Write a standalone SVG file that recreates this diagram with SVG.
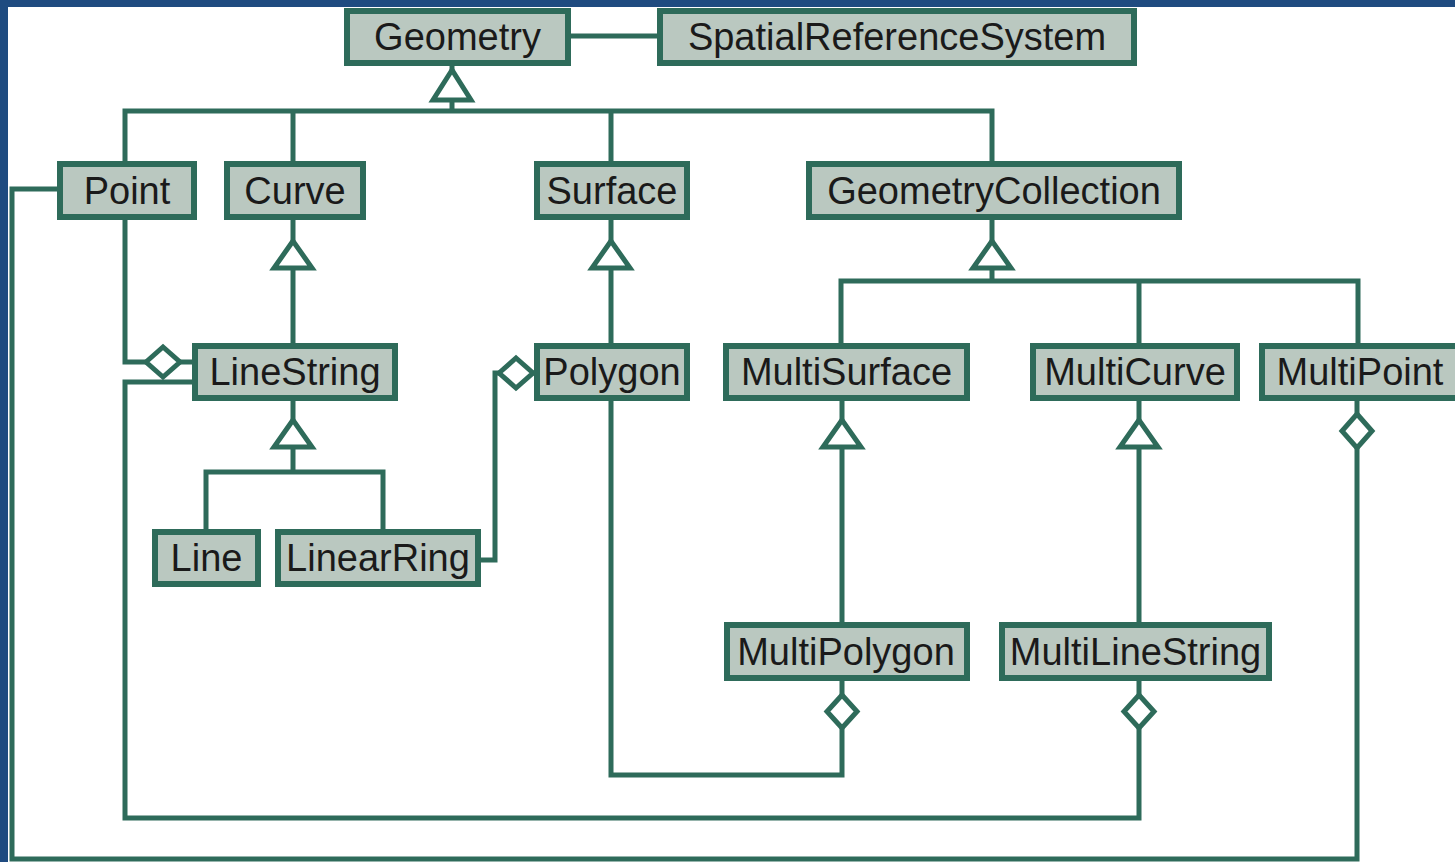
<svg xmlns="http://www.w3.org/2000/svg" width="1455" height="862" viewBox="0 0 1455 862">
<style>
.box{fill:#bac8c0;stroke:#2e6b5a;stroke-width:6}
.lbl{font-family:"Liberation Sans",Arial,sans-serif;font-size:38px;fill:#1a1a1a;text-anchor:middle}
.ln{fill:none;stroke:#2e6b5a;stroke-width:5;stroke-linejoin:miter}
.tri{fill:#ffffff;stroke:#2e6b5a;stroke-width:5;stroke-linejoin:miter}
.dia{fill:#ffffff;stroke:#2e6b5a;stroke-width:5;stroke-linejoin:miter}
</style>
<rect x="0" y="0" width="1455" height="862" fill="#ffffff"/>
<rect x="0" y="0" width="1455" height="7" fill="#1f4b80"/>
<rect x="0" y="0" width="8" height="862" fill="#1f4b80"/>
<g id="connectors">
  <line class="ln" x1="571" y1="36" x2="657" y2="36"/>
  <polyline class="ln" points="452,66 452,70"/>
  <polyline class="ln" points="452,100 452,111"/>
  <polyline class="ln" points="125,161 125,111 992,111 992,161"/>
  <line class="ln" x1="293" y1="111" x2="293" y2="161"/>
  <line class="ln" x1="611" y1="111" x2="611" y2="161"/>
  <polygon class="tri" points="452,70 433,100 471,100"/>
  <line class="ln" x1="293" y1="220" x2="293" y2="343"/>
  <polygon class="tri" points="293,241 274,268 312,268"/>
  <line class="ln" x1="611" y1="220" x2="611" y2="343"/>
  <polygon class="tri" points="611,241 592,268 630,268"/>
  <line class="ln" x1="992" y1="220" x2="992" y2="281"/>
  <polyline class="ln" points="841,343 841,281 1358,281 1358,343"/>
  <line class="ln" x1="1139" y1="281" x2="1139" y2="343"/>
  <polygon class="tri" points="992,241 973,268 1011,268"/>
  <line class="ln" x1="293" y1="401" x2="293" y2="472"/>
  <polyline class="ln" points="206,529 206,472 383,472 383,529"/>
  <polygon class="tri" points="293,420 274,447 312,447"/>
  <line class="ln" x1="842" y1="401" x2="842" y2="622"/>
  <polygon class="tri" points="842,420 823,447 861,447"/>
  <line class="ln" x1="1139" y1="401" x2="1139" y2="622"/>
  <polygon class="tri" points="1139,420 1120,447 1158,447"/>
  <polyline class="ln" points="125,220 125,362 192,362"/>
  <polygon class="dia" points="146,362 163,347 180,362 163,377"/>
  <polyline class="ln" points="192,382 125,382 125,818 1139,818 1139,681"/>
  <polygon class="dia" points="1139,695 1154,711.5 1139,728 1124,711.5"/>
  <polyline class="ln" points="57,189 12,189 12,859 1357,859 1357,401"/>
  <polygon class="dia" points="1357,414 1372,431 1357,448 1342,431"/>
  <polyline class="ln" points="481,560 495,560 495,373 534,373"/>
  <polygon class="dia" points="499,373 516,358 533,373 516,388"/>
  <polyline class="ln" points="611,401 611,775 842,775 842,681"/>
  <polygon class="dia" points="842,695 857,711.5 842,728 827,711.5"/>
</g>
<g id="Geometry"><rect class="box" x="347" y="11" width="221" height="52"/><text class="lbl" x="457.5" y="50">Geometry</text></g>
<g id="SpatialReferenceSystem"><rect class="box" x="660" y="11" width="474" height="52"/><text class="lbl" x="897" y="50">SpatialReferenceSystem</text></g>
<g id="Point"><rect class="box" x="60" y="164" width="134" height="53"/><text class="lbl" x="127" y="204">Point</text></g>
<g id="Curve"><rect class="box" x="227" y="164" width="136" height="53"/><text class="lbl" x="295" y="204">Curve</text></g>
<g id="Surface"><rect class="box" x="537" y="164" width="150" height="53"/><text class="lbl" x="612" y="204">Surface</text></g>
<g id="GeometryCollection"><rect class="box" x="809" y="164" width="370" height="53"/><text class="lbl" x="994" y="204">GeometryCollection</text></g>
<g id="LineString"><rect class="box" x="195" y="346" width="200" height="52"/><text class="lbl" x="295" y="385">LineString</text></g>
<g id="Polygon"><rect class="box" x="537" y="346" width="150" height="52"/><text class="lbl" x="612" y="385">Polygon</text></g>
<g id="MultiSurface"><rect class="box" x="726" y="346" width="241" height="52"/><text class="lbl" x="846.5" y="385">MultiSurface</text></g>
<g id="MultiCurve"><rect class="box" x="1033" y="346" width="204" height="52"/><text class="lbl" x="1135" y="385">MultiCurve</text></g>
<g id="MultiPoint"><rect class="box" x="1262" y="346" width="196" height="52"/><text class="lbl" x="1360" y="385">MultiPoint</text></g>
<g id="Line"><rect class="box" x="155" y="532" width="103" height="52"/><text class="lbl" x="206.5" y="571">Line</text></g>
<g id="LinearRing"><rect class="box" x="278" y="532" width="200" height="52"/><text class="lbl" x="378" y="571">LinearRing</text></g>
<g id="MultiPolygon"><rect class="box" x="727" y="625" width="240" height="53"/><text class="lbl" x="846" y="665">MultiPolygon</text></g>
<g id="MultiLineString"><rect class="box" x="1002" y="625" width="267" height="53"/><text class="lbl" x="1135.5" y="665">MultiLineString</text></g>
</svg>
